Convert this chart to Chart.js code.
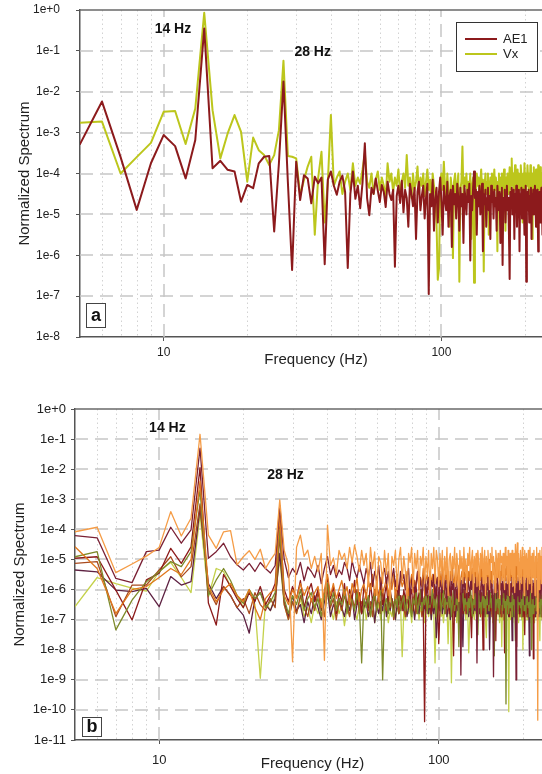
<!DOCTYPE html>
<html>
<head>
<meta charset="utf-8">
<script src="https://cdn.jsdelivr.net/npm/chart.js@4.4.1/dist/chart.umd.min.js"></script>
<style>
  html, body { margin: 0; padding: 0; background: #fff; overflow: hidden; width: 542px; height: 774px; }
  canvas { position: absolute; left: 0; }
  #chartA { top: 0; }
  #chartB { top: 390px; }
</style>
</head>
<body>
<canvas id="chartA" width="560" height="380"></canvas>
<canvas id="chartB" width="560" height="384"></canvas>
<script>
// Frequency bins (Hz)
const FREQ = [
  5,6,7,8,9,10,11,12,13,14,
  15,16,17,18,19,20,21,22,23,24,
  25,26,27,28,29,30,31,32,33,34,
  35,36,37,38,39,40,41,42,43,44,
  45,46,47,48,49,50,51,52,53,54,
  55,56,57,58,59,60,61,62,63,64,
  65,66,67,68,69,70,71,72,73,74,
  75,76,77,78,79,80,81,82,83,84,
  85,86,87,88,89,90,91,92,93,94,
  95,96,97,98,99,100,101,102,103,104,
  105,106,107,108,109,110,111,112,113,114,
  115,116,117,118,119,120,121,122,123,124,
  125,126,127,128,129,130,131,132,133,134,
  135,136,137,138,139,140,141,142,143,144,
  145,146,147,148,149,150,151,152,153,154,
  155,156,157,158,159,160,161,162,163,164,
  165,166,167,168,169,170,171,172,173,174,
  175,176,177,178,179,180,181,182,183,184,
  185,186,187,188,189,190,191,192,193,194,
  195,196,197,198,199,200,201,202,203,204,
  205,206,207,208,209,210,211,212,213,214,
  215,216,217,218,219,220,221,222,223,224,
  225,226,227,228,229,230,231,232,233,234,
  235,236,237,238,239,240,241,242,243,244,
  245,246,247,248,249,250
];

// Panel a: normalized spectra, stored as log10 of the value
const AE1_LOG = [
  -3.28,-2.24,-3.6,-4.89,-3.75,-3.06,-3.33,-4.12,-3.18,-0.45,
  -3.87,-3.69,-3.91,-3.95,-4.69,-4.28,-4.36,-3.75,-3.59,-3.57,
  -5.42,-3.75,-1.75,-4.2,-6.36,-3.71,-4.65,-4.04,-4.12,-4.73,
  -4.08,-4.24,-4.1,-6.22,-4.15,-3.95,-4.3,-4.52,-4.2,-4.05,
  -4.45,-6.31,-4.5,-3.95,-4.62,-4.3,-4.85,-4.22,-3.26,-4.6,
  -5.02,-4.35,-4.5,-4.12,-4.42,-4.7,-4.28,-4.45,-4.82,-4.2,
  -4.5,-4.65,-4.4,-6.28,-4.55,-4.3,-4.72,-4.18,-4.95,-4.4,
  -4.6,-5.3,-4.25,-4.5,-4.8,-4.35,-5.6,-4.45,-4.2,-4.9,
  -4.55,-4.3,-5.1,-4.6,-4.25,-6.95,-4.5,-4.8,-4.15,-5.4,
  -4.6,-4.35,-5.2,-4.45,-4.1,-4.7,-5.5,-4.3,-4.65,-4.9,
  -4.2,-5.3,-4.55,-4.4,-5.8,-4.3,-4.75,-4.5,-5.1,-4.25,
  -4.6,-5.4,-4.35,-4.8,-4.5,-5.7,-4.3,-4.65,-5.0,-4.4,
  -4.7,-4.25,-6.13,-4.55,-4.9,-4.35,-3.95,-4.6,-4.4,-5.5,
  -4.45,-4.8,-4.3,-5.0,-4.6,-4.25,-5.9,-4.5,-4.75,-4.4,
  -5.3,-4.6,-4.35,-4.9,-4.55,-5.6,-4.3,-4.7,-4.45,-5.1,
  -4.4,-4.8,-4.6,-5.4,-4.3,-4.65,-4.9,-4.45,-5.7,-4.5,
  -4.35,-6.24,-4.6,-4.8,-4.4,-5.2,-4.55,-4.3,-4.9,-4.6,
  -5.5,-6.58,-4.45,-4.7,-4.35,-5.0,-4.6,-4.4,-5.6,-4.5,
  -4.8,-4.3,-5.3,-4.55,-4.7,-4.4,-5.9,-4.5,-4.65,-4.35,
  -5.1,-4.6,-4.4,-4.85,-5.5,-4.5,-4.3,-6.65,-4.6,-4.45,
  -4.9,-4.4,-5.2,-4.55,-4.7,-4.35,-5.6,-4.5,-4.8,-4.4,
  -5.0,-4.6,-4.3,-4.75,-5.3,-4.5,-4.4,-4.9,-5.91,-4.55,
  -4.45,-4.8,-5.2,-4.5,-4.35,-4.7,-5.5,-4.6,-4.4,-4.9,
  -4.55,-5.1,-4.45,-4.7,-4.35,-5.4,-4.6,-4.8,-4.5,-5.0,
  -4.4,-4.65,-5.3,-4.5,-4.75,-4.45
];
const VX_LOG = [
  -2.76,-2.73,-4.0,-3.6,-3.25,-2.49,-2.47,-3.28,-2.41,-0.07,
  -2.45,-3.63,-3.02,-2.57,-2.98,-4.2,-3.12,-3.43,-3.55,-3.79,
  -3.55,-2.94,-1.24,-3.57,-3.59,-3.63,-4.53,-4.16,-3.83,-3.59,
  -5.5,-4.1,-3.47,-5.2,-4.2,-2.57,-4.3,-4.1,-3.95,-4.5,
  -4.2,-4.0,-4.4,-3.75,-4.3,-4.1,-4.25,-3.9,-3.5,-4.2,
  -4.35,-4.0,-4.5,-4.15,-3.95,-4.4,-4.1,-4.3,-4.6,-3.75,
  -4.2,-4.0,-4.45,-4.1,-4.3,-3.9,-4.5,-4.2,-4.0,-4.35,
  -3.55,-4.3,-4.1,-4.6,-4.0,-4.4,-4.2,-3.83,-4.5,-4.1,
  -4.3,-4.0,-4.55,-4.2,-3.9,-4.4,-4.15,-4.7,-4.0,-4.3,
  -4.5,-5.2,-6.6,-6.32,-4.2,-4.0,-4.4,-3.71,-4.3,-4.6,
  -4.0,-4.5,-5.3,-4.1,-4.35,-6.07,-4.2,-4.0,-4.6,-4.3,
  -4.0,-6.65,-4.4,-4.2,-3.34,-4.5,-4.1,-4.3,-4.0,-4.6,
  -4.2,-4.4,-4.0,-5.6,-4.3,-4.1,-6.67,-4.2,-4.5,-4.0,
  -4.3,-4.1,-4.6,-4.2,-3.9,-4.4,-4.15,-6.4,-4.3,-4.0,
  -4.5,-4.2,-4.0,-5.5,-4.3,-4.1,-4.4,-4.0,-4.6,-4.2,
  -3.9,-4.4,-4.1,-4.3,-5.9,-4.2,-4.0,-4.5,-4.1,-4.3,
  -4.0,-4.6,-4.2,-3.9,-4.4,-5.4,-4.1,-4.3,-4.0,-4.5,
  -4.2,-3.85,-4.4,-4.1,-3.63,-4.3,-4.0,-4.5,-4.2,-3.8,
  -4.4,-4.1,-4.3,-3.9,-4.5,-4.0,-4.2,-4.4,-3.8,-4.1,
  -4.3,-5.2,-4.0,-4.4,-3.75,-4.2,-4.5,-4.0,-4.3,-3.8,
  -4.1,-4.4,-4.0,-4.6,-3.8,-4.2,-4.3,-5.6,-4.0,-4.4,
  -3.85,-4.2,-4.1,-4.5,-3.9,-4.3,-4.0,-4.4,-3.8,-4.2,
  -4.1,-4.5,-3.85,-4.3,-4.0,-4.4,-4.15,-3.9,-4.3,-4.6,
  -4.0,-4.2,-3.8,-4.4,-4.1,-4.3,-3.9,-4.5,-4.0,-4.2,
  -3.85,-4.3,-4.1,-4.5,-4.0,-4.2
];

// Panel b: eight sensor spectra, log10 of the normalized value
const B1_LOG = [
  -4.08,-3.93,-5.44,-5.15,-4.89,-4.6,-3.41,-4.22,-3.63,-0.84,
  -4.19,-4.63,-4.08,-4.04,-5.18,-4.91,-4.71,-5.0,-4.66,-5.3,
  -5.02,-4.8,-3.02,-4.69,-5.2,-8.4,-4.6,-4.19,-4.9,-4.69,
  -5.3,-4.9,-5.4,-4.8,-8.35,-3.86,-5.2,-4.95,-5.5,-4.7,
  -5.0,-4.8,-5.3,-4.6,-5.1,-4.52,-4.9,-5.4,-4.7,-5.2,
  -4.8,-5.9,-4.6,-5.3,-4.75,-6.2,-4.9,-5.1,-5.8,-4.7,
  -5.5,-4.8,-6.4,-4.9,-5.2,-4.7,-6.0,-5.0,-4.6,-5.7,
  -4.9,-5.4,-6.3,-4.8,-5.1,-4.6,-5.9,-4.8,-5.3,-4.7,
  -6.1,-4.9,-5.2,-4.6,-5.8,-4.9,-5.5,-4.7,-6.2,-4.8,
  -5.3,-4.6,-5.8,-4.7,-5.0,-5.9,-4.8,-5.4,-4.7,-6.0,
  -4.9,-5.5,-4.6,-6.2,-5.0,-4.8,-5.7,-4.9,-5.3,-4.6,
  -5.9,-4.8,-5.2,-6.4,-4.7,-5.3,-4.9,-5.8,-4.6,-5.4,
  -5.0,-6.1,-4.8,-5.2,-4.6,-5.7,-5.0,-4.7,-6.3,-4.9,
  -5.4,-4.8,-5.9,-4.7,-5.1,-6.0,-4.8,-5.3,-4.6,-5.8,
  -5.0,-4.7,-6.2,-4.9,-5.5,-4.7,-5.2,-6.0,-4.8,-5.1,
  -4.6,-5.8,-4.9,-5.3,-6.1,-4.7,-5.0,-5.6,-4.8,-5.2,
  -6.3,-4.7,-5.1,-4.9,-5.7,-4.8,-5.4,-6.0,-4.6,-5.2,
  -4.9,-5.8,-4.7,-5.3,-6.2,-4.8,-5.0,-5.5,-4.7,-5.9,
  -5.1,-4.8,-6.1,-4.5,-5.2,-4.9,-4.45,-5.7,-4.8,-5.3,
  -6.0,-4.7,-5.1,-5.8,-4.6,-5.3,-4.9,-6.2,-4.7,-5.0,
  -5.6,-4.8,-5.2,-6.0,-4.7,-5.1,-5.8,-4.6,-5.3,-4.9,
  -6.1,-4.8,-5.0,-5.6,-4.7,-5.4,-6.2,-4.9,-5.0,-4.6,
  -5.7,-10.34,-4.8,-5.2,-6.0,-4.7,-5.3,-4.9,-5.8,-4.6,
  -5.1,-6.1,-4.8,-5.0,-5.6,-4.7,-5.3,-6.0,-4.8,-5.2,
  -4.7,-5.7,-5.0,-4.8,-6.1,-4.9
];
const B2_LOG = [
  -4.21,-4.28,-5.63,-5.77,-4.74,-4.69,-3.93,-4.46,-4.02,-1.3,
  -4.96,-4.74,-4.46,-4.91,-5.18,-5.35,-5.13,-5.4,-5.1,-5.3,
  -5.45,-5.2,-3.2,-5.0,-5.6,-5.3,-5.5,-5.1,-5.7,-5.25,
  -5.4,-5.6,-5.2,-5.8,-5.3,-4.9,-5.5,-5.2,-5.6,-5.35,
  -5.5,-5.1,-5.3,-5.7,-5.05,-5.4,-5.6,-5.2,-5.5,-5.8,
  -5.3,-5.6,-5.1,-5.9,-5.4,-5.7,-5.2,-6.0,-5.5,-5.3,
  -5.8,-5.4,-6.1,-5.6,-5.3,-5.9,-5.5,-6.2,-5.4,-5.7,
  -5.5,-6.0,-5.6,-5.3,-6.3,-5.7,-5.5,-6.1,-5.8,-5.4,
  -6.0,-5.6,-6.4,-5.7,-5.5,-6.2,-5.8,-5.6,-6.5,-5.7,
  -5.9,-5.5,-6.3,-5.8,-5.6,-6.6,-5.7,-5.9,-6.1,-5.5,
  -6.0,-5.7,-6.4,-5.6,-5.9,-6.2,-5.5,-6.0,-5.8,-6.5,
  -5.7,-5.9,-6.3,-5.6,-5.8,-8.84,-5.7,-6.1,-5.6,-6.0,
  -5.8,-6.4,-5.6,-5.9,-6.2,-5.7,-6.0,-5.5,-6.3,-5.8,
  -6.1,-5.6,-8.44,-5.9,-6.0,-5.7,-6.4,-5.8,-5.6,-6.2,
  -5.9,-5.7,-6.3,-5.8,-6.0,-5.6,-6.5,-5.9,-5.7,-6.1,
  -5.8,-6.4,-8.9,-5.7,-6.0,-5.8,-6.3,-5.6,-5.9,-6.2,
  -5.7,-6.0,-5.8,-6.5,-5.6,-5.9,-6.1,-5.7,-6.3,-5.8,
  -6.0,-5.6,-6.2,-5.9,-5.7,-6.4,-5.8,-6.0,-5.6,-6.1,
  -5.9,-6.3,-5.7,-6.0,-9.0,-5.8,-6.2,-5.6,-5.9,-6.4,
  -5.7,-6.0,-5.8,-6.3,-5.6,-5.9,-6.1,-5.7,-6.5,-5.8,
  -6.0,-5.6,-6.2,-5.9,-5.7,-6.4,-5.8,-6.0,-5.6,-6.1,
  -5.9,-6.3,-5.7,-6.0,-5.8,-6.5,-5.6,-5.9,-6.2,-5.7,
  -6.0,-5.8,-6.4,-5.6,-5.9,-6.1,-5.7,-6.3,-5.8,-6.0,
  -5.6,-6.2,-5.9,-5.7,-6.4,-5.8,-6.0,-5.6,-6.1,-5.9,
  -6.3,-5.7,-6.0,-5.8,-6.2,-5.9
];
const B3_LOG = [
  -4.58,-5.3,-6.8,-6.0,-5.9,-5.6,-5.3,-5.5,-5.0,-2.4,
  -5.9,-6.4,-6.0,-5.8,-6.2,-6.4,-6.0,-6.6,-7.0,-6.3,
  -6.1,-6.0,-3.5,-6.2,-6.5,-6.0,-6.3,-5.8,-6.2,-5.9,
  -6.4,-6.1,-5.9,-6.6,-6.0,-5.5,-6.2,-5.8,-6.3,-6.0,
  -5.7,-6.2,-5.9,-6.5,-5.8,-6.1,-5.6,-6.4,-6.0,-5.8,
  -6.3,-5.7,-6.0,-5.5,-6.2,-5.8,-6.4,-5.6,-6.1,-5.9,
  -5.6,-6.2,-5.8,-6.0,-5.5,-6.3,-5.7,-6.1,-5.6,-5.9,
  -5.7,-6.0,-5.4,-6.2,-5.8,-5.5,-6.1,-5.7,-5.9,-5.4,
  -6.0,-5.6,-5.9,-5.3,-6.2,-5.7,-5.5,-6.0,-5.4,-5.8,
  -5.5,-6.1,-5.3,-5.8,-5.6,-6.0,-5.4,-5.9,-5.2,-5.7,
  -6.0,-5.3,-5.8,-5.5,-6.2,-5.4,-5.7,-5.1,-6.0,-5.6,
  -5.3,-5.9,-5.5,-5.2,-6.1,-5.6,-5.4,-5.8,-5.1,-5.7,
  -5.5,-5.2,-6.0,-5.4,-5.7,-5.1,-5.9,-5.3,-5.6,-5.0,
  -5.8,-5.4,-5.2,-6.1,-5.5,-5.3,-5.7,-5.1,-6.0,-5.4,
  -5.2,-5.8,-5.5,-5.1,-5.9,-5.3,-5.6,-5.0,-5.7,-5.4,
  -5.9,-5.2,-5.5,-5.1,-5.8,-5.4,-5.0,-5.7,-5.3,-5.6,
  -5.1,-5.8,-5.4,-5.2,-5.9,-5.0,-5.6,-5.3,-5.7,-5.1,
  -5.5,-5.2,-5.9,-5.4,-5.0,-5.7,-5.3,-5.6,-5.1,-5.8,
  -5.4,-5.0,-5.6,-5.2,-5.9,-5.3,-4.9,-5.5,-5.1,-5.7,
  -5.3,-5.6,-5.0,-5.4,-5.8,-5.2,-5.5,-5.0,-5.7,-5.3,
  -5.1,-5.6,-5.4,-5.0,-5.8,-5.3,-5.5,-5.1,-5.7,-5.2,
  -5.5,-5.0,-5.6,-5.3,-5.1,-5.8,-5.4,-5.2,-5.6,-5.0,
  -5.4,-5.7,-5.1,-5.5,-5.3,-5.0,-5.8,-5.2,-5.5,-5.1,
  -5.6,-5.3,-5.0,-5.7,-5.2,-5.4,-5.1,-5.8,-5.3,-5.5,
  -5.0,-5.6,-5.2,-5.4,-5.1,-5.7
];
const B4_LOG = [
  -4.91,-4.74,-7.34,-6.35,-5.74,-5.41,-5.07,-5.24,-4.74,-2.7,
  -6.2,-5.68,-5.3,-5.7,-6.2,-6.46,-6.0,-6.3,-6.1,-6.6,
  -6.4,-6.1,-4.0,-6.3,-6.8,-6.2,-6.5,-6.0,-6.7,-6.3,
  -6.1,-6.6,-6.3,-6.9,-6.2,-5.8,-6.5,-6.1,-6.7,-6.3,
  -6.5,-6.0,-6.8,-6.2,-6.4,-6.7,-6.1,-6.5,-8.44,-6.3,
  -6.6,-6.2,-6.9,-6.4,-6.1,-6.7,-6.3,-6.0,-9.0,-6.5,
  -6.3,-6.8,-6.1,-6.5,-6.9,-6.2,-6.6,-6.0,-6.7,-6.4,
  -6.2,-6.7,-6.4,-6.0,-6.6,-6.9,-6.3,-6.5,-6.1,-6.8,
  -6.4,-6.0,-6.7,-6.3,-6.5,-6.1,-6.8,-6.2,-6.6,-6.4,
  -6.0,-6.6,-6.3,-6.9,-6.2,-6.5,-6.1,-6.7,-6.4,-6.0,
  -6.8,-6.3,-6.5,-6.1,-6.6,-6.2,-6.9,-6.4,-6.0,-6.7,
  -6.3,-6.5,-6.1,-7.9,-6.2,-6.6,-6.4,-6.0,-6.7,-6.3,
  -6.5,-6.1,-6.8,-6.3,-6.6,-6.0,-6.4,-6.9,-6.2,-6.5,
  -6.1,-6.7,-6.3,-7.5,-6.0,-6.6,-6.2,-6.8,-6.4,-6.1,
  -6.6,-6.3,-6.9,-6.2,-6.5,-6.0,-6.7,-6.4,-6.1,-6.6,
  -6.3,-6.8,-6.2,-8.2,-6.0,-6.7,-6.4,-6.1,-6.6,-6.3,
  -6.9,-6.2,-6.5,-6.0,-6.7,-6.3,-6.1,-6.6,-6.4,-9.8,
  -6.2,-6.5,-6.0,-6.8,-6.3,-6.6,-6.1,-6.4,-6.9,-6.2,
  -6.5,-6.0,-6.7,-7.7,-6.6,-6.1,-6.4,-6.8,-6.2,-6.5,
  -6.0,-6.6,-6.3,-6.9,-6.2,-6.5,-6.1,-6.7,-6.4,-6.0,
  -6.8,-6.3,-6.5,-6.1,-6.6,-6.2,-6.9,-6.4,-6.0,-6.7,
  -8.0,-6.5,-6.1,-6.8,-6.2,-6.6,-6.4,-6.0,-6.7,-6.3,
  -6.5,-6.1,-6.8,-6.3,-6.6,-6.0,-6.4,-6.9,-6.2,-6.5,
  -6.1,-6.7,-6.3,-6.5,-6.0,-6.6,-6.2,-6.8,-7.8,-6.1,
  -6.6,-6.3,-6.9,-6.2,-6.5,-6.0
];
const B5_LOG = [
  -4.96,-4.91,-6.02,-7.01,-5.68,-5.46,-4.63,-5.13,-4.58,-1.95,
  -6.45,-7.18,-5.5,-5.9,-6.3,-6.6,-6.1,-6.4,-5.9,-6.5,
  -6.2,-5.8,-3.7,-6.0,-6.4,-5.9,-6.3,-5.7,-6.6,-6.1,
  -5.8,-6.4,-6.0,-6.7,-6.2,-5.6,-6.3,-5.9,-6.8,-6.1,
  -6.4,-5.8,-6.6,-6.0,-6.3,-5.7,-6.5,-6.1,-6.8,-5.9,
  -6.2,-6.6,-5.8,-6.4,-6.0,-6.7,-6.1,-5.9,-6.5,-6.2,
  -5.8,-6.6,-6.0,-6.4,-6.8,-6.1,-5.9,-6.5,-6.2,-6.7,
  -6.0,-6.4,-5.8,-6.6,-6.2,-6.0,-6.7,-6.3,-5.9,-6.5,
  -6.1,-6.4,-6.0,-6.6,-10.39,-6.2,-5.9,-6.5,-6.1,-6.8,
  -6.0,-6.3,-6.6,-5.9,-6.4,-7.8,-6.7,-6.0,-6.5,-6.2,
  -5.9,-6.6,-6.2,-6.0,-6.8,-6.3,-5.9,-6.5,-8.2,-6.4,
  -6.7,-6.0,-6.3,-6.6,-5.9,-6.4,-6.2,-6.8,-6.0,-6.5,
  -6.2,-5.9,-6.6,-6.1,-6.4,-6.8,-7.6,-6.3,-6.6,-5.9,
  -6.4,-6.1,-6.7,-6.0,-6.5,-6.2,-5.9,-6.6,-6.3,-8.0,
  -6.8,-6.2,-6.4,-6.0,-6.6,-6.1,-6.5,-5.9,-6.7,-6.3,
  -6.0,-6.5,-6.2,-6.8,-6.1,-7.7,-5.9,-6.6,-6.3,-6.0,
  -6.5,-6.8,-6.2,-6.0,-6.6,-6.3,-5.9,-8.1,-6.1,-6.7,
  -6.0,-6.4,-6.2,-6.6,-6.9,-6.1,-6.3,-5.9,-6.5,-6.2,
  -6.7,-6.0,-6.4,-6.1,-6.6,-7.9,-5.9,-6.5,-6.2,-6.8,
  -6.1,-6.4,-6.0,-6.6,-6.3,-6.9,-6.1,-6.5,-7.5,-6.0,
  -6.6,-6.3,-6.8,-6.1,-6.4,-6.0,-6.7,-6.2,-6.5,-6.9,
  -6.2,-6.0,-6.6,-8.3,-6.9,-6.1,-6.4,-6.7,-6.0,-6.5,
  -6.3,-6.6,-6.1,-6.8,-6.2,-6.5,-6.0,-6.7,-6.3,-6.4,
  -6.9,-7.8,-6.5,-6.2,-6.8,-6.0,-6.6,-6.3,-6.1,-6.7,
  -6.2,-6.5,-6.0,-6.8,-6.3,-6.6
];
const B6_LOG = [
  -5.13,-5.07,-6.9,-5.85,-5.85,-5.35,-4.91,-5.58,-5.24,-3.15,
  -6.0,-6.5,-5.9,-6.2,-6.6,-6.3,-6.8,-6.1,-6.5,-6.7,
  -6.3,-6.6,-4.2,-6.5,-7.0,-6.4,-6.8,-6.2,-6.6,-6.9,
  -6.3,-6.7,-6.1,-6.5,-6.9,-5.9,-6.6,-6.3,-7.0,-6.4,
  -6.7,-6.2,-6.5,-6.9,-6.3,-6.6,-6.0,-6.8,-6.4,-6.5,
  -6.1,-6.7,-6.4,-6.9,-6.2,-6.6,-6.3,-6.8,-6.0,-6.5,
  -6.7,-6.2,-6.6,-6.3,-7.0,-6.4,-6.1,-6.8,-6.5,-6.2,
  -6.6,-6.9,-6.3,-6.5,-6.1,-6.7,-6.4,-6.0,-6.8,-6.3,
  -6.5,-6.1,-6.9,-6.4,-6.2,-6.7,-6.3,-6.6,-6.0,-6.8,
  -6.3,-6.6,-6.1,-6.9,-6.4,-6.2,-6.7,-6.5,-6.0,-6.6,
  -6.3,-6.8,-6.1,-6.5,-6.7,-6.2,-6.4,-6.9,-6.3,-6.0,
  -6.6,-6.4,-6.2,-6.8,-6.5,-6.1,-6.7,-6.3,-6.6,-6.0,
  -6.8,-6.3,-6.5,-6.1,-6.7,-6.4,-6.2,-6.9,-6.3,-6.6,
  -6.0,-6.5,-6.8,-6.2,-6.6,-6.3,-6.9,-6.1,-6.4,-6.7,
  -6.2,-6.6,-6.0,-6.8,-6.3,-6.5,-6.1,-6.7,-6.4,-6.2,
  -6.9,-6.3,-6.6,-6.0,-6.5,-6.7,-6.2,-6.4,-6.8,-6.1,
  -6.6,-6.3,-6.9,-6.2,-6.5,-6.1,-6.7,-6.4,-6.0,-6.6,
  -6.3,-6.8,-6.1,-6.5,-6.7,-6.2,-6.4,-6.9,-6.3,-6.6,
  -6.0,-6.5,-6.8,-6.2,-6.6,-6.4,-6.1,-6.7,-6.3,-6.5,
  -6.9,-6.2,-6.6,-6.0,-6.4,-6.7,-6.3,-6.5,-6.1,-6.8,
  -6.4,-6.2,-6.6,-6.9,-6.3,-6.5,-6.0,-6.7,-6.4,-6.2,
  -6.8,-6.3,-6.6,-6.1,-6.5,-6.9,-6.2,-6.4,-6.7,-6.0,
  -6.6,-6.3,-6.8,-6.2,-6.5,-6.1,-6.7,-6.4,-6.9,-6.3,
  -6.5,-6.0,-6.6,-6.8,-6.2,-6.4,-6.7,-6.1,-6.5,-6.3,
  -6.8,-6.2,-6.6,-6.0,-6.4,-6.7
];
const B7_LOG = [
  -5.35,-5.41,-6.02,-6.07,-5.96,-6.57,-5.57,-5.85,-5.74,-3.3,
  -5.8,-6.3,-5.9,-6.2,-6.6,-6.85,-7.45,-6.3,-6.1,-6.5,
  -6.7,-6.3,-4.8,-6.4,-6.9,-6.2,-6.7,-6.5,-7.1,-6.4,
  -6.8,-6.2,-6.6,-7.0,-6.4,-6.0,-6.9,-6.5,-6.7,-6.3,
  -6.6,-6.9,-6.4,-6.7,-6.2,-7.0,-6.5,-6.3,-6.8,-6.6,
  -6.4,-6.9,-6.6,-6.3,-7.1,-6.5,-6.8,-6.4,-6.7,-6.2,
  -6.9,-6.5,-6.7,-6.3,-6.6,-7.0,-6.4,-6.8,-6.5,-6.3,
  -6.7,-6.4,-6.9,-6.6,-6.2,-6.8,-6.5,-7.0,-6.4,-6.6,
  -6.8,-6.3,-6.6,-6.9,-6.5,-6.7,-6.2,-6.8,-6.4,-7.0,
  -6.5,-6.8,-6.3,-7.6,-6.9,-6.4,-6.7,-6.2,-6.8,-6.5,
  -6.7,-6.4,-6.9,-6.6,-6.3,-7.0,-6.5,-6.8,-6.4,-6.6,
  -6.9,-6.3,-6.7,-6.5,-6.8,-6.4,-6.6,-7.9,-6.3,-6.7,
  -6.5,-6.8,-6.4,-6.9,-6.6,-6.3,-6.7,-6.5,-6.8,-6.4,
  -6.7,-6.3,-6.6,-6.9,-6.4,-6.8,-6.5,-6.7,-6.3,-6.6,
  -6.9,-6.5,-6.7,-6.4,-6.8,-6.6,-6.3,-8.0,-6.5,-6.7,
  -6.4,-6.8,-6.6,-6.3,-6.9,-6.5,-6.7,-6.4,-6.8,-6.6,
  -6.3,-6.7,-6.5,-6.9,-6.4,-6.6,-6.8,-6.3,-6.7,-6.5,
  -6.8,-6.4,-6.6,-6.9,-6.5,-6.3,-6.7,-6.4,-7.7,-6.6,
  -6.4,-6.9,-6.5,-6.7,-6.3,-6.8,-6.6,-6.4,-6.7,-6.5,
  -6.8,-6.3,-6.6,-6.9,-6.5,-6.7,-6.4,-6.8,-6.6,-6.3,
  -6.7,-6.5,-6.9,-6.4,-6.6,-6.8,-8.2,-6.7,-6.5,-6.9,
  -6.4,-6.6,-6.8,-6.3,-6.7,-6.5,-6.9,-6.4,-6.6,-6.8,
  -6.3,-6.7,-6.5,-6.9,-6.4,-6.6,-6.8,-6.3,-6.7,-6.5,
  -6.9,-6.4,-6.6,-6.8,-6.3,-6.7,-7.6,-6.9,-6.4,-6.6,
  -6.8,-6.3,-6.7,-6.5,-6.9,-6.4
];
const B8_LOG = [
  -6.57,-5.6,-5.8,-5.95,-6.05,-5.4,-5.1,-5.6,-6.1,-3.5,
  -6.24,-5.3,-5.4,-5.9,-6.2,-6.6,-6.0,-6.5,-8.95,-6.4,
  -6.7,-6.2,-5.0,-6.5,-7.0,-6.4,-6.8,-6.3,-6.9,-6.6,
  -7.1,-6.5,-6.8,-6.3,-6.9,-6.1,-6.6,-7.0,-6.4,-6.8,
  -6.5,-7.2,-6.6,-6.9,-6.3,-6.7,-7.0,-6.5,-6.8,-6.4,
  -7.0,-6.6,-6.9,-6.4,-7.1,-6.7,-6.5,-7.0,-6.6,-6.8,
  -6.5,-7.1,-6.7,-6.9,-6.4,-7.0,-6.6,-6.8,-6.5,-8.23,
  -6.7,-7.0,-6.5,-6.8,-6.6,-7.1,-6.4,-6.9,-6.7,-6.5,
  -7.0,-6.6,-6.8,-6.4,-7.1,-6.7,-6.5,-6.9,-6.6,-7.0,
  -6.5,-6.8,-8.44,-6.7,-7.0,-6.6,-6.4,-6.9,-6.7,-7.1,
  -6.6,-6.8,-6.5,-7.8,-6.7,-6.4,-9.1,-6.8,-6.6,-6.9,
  -6.5,-7.1,-6.7,-6.4,-6.9,-6.6,-7.0,-6.5,-6.8,-6.6,
  -7.0,-6.5,-6.8,-8.1,-7.1,-6.7,-6.4,-6.9,-6.6,-7.0,
  -6.5,-6.8,-6.6,-7.1,-6.7,-6.4,-6.9,-6.6,-7.0,-6.5,
  -6.8,-6.6,-7.1,-7.6,-6.4,-6.9,-6.6,-7.0,-6.5,-6.8,
  -6.6,-7.1,-6.7,-6.4,-6.9,-6.6,-7.0,-6.5,-6.8,-6.6,
  -7.1,-6.7,-6.4,-7.9,-6.6,-7.0,-6.5,-6.8,-6.6,-7.1,
  -6.7,-6.4,-6.9,-10.06,-6.6,-7.0,-6.5,-6.8,-6.6,-7.1,
  -6.7,-6.4,-6.9,-6.6,-7.0,-6.5,-6.8,-6.6,-7.1,-6.7,
  -6.4,-6.9,-6.6,-7.0,-6.5,-8.0,-6.6,-7.1,-6.7,-6.4,
  -6.9,-6.6,-7.0,-6.5,-6.8,-6.6,-7.1,-6.7,-6.4,-6.9,
  -6.6,-7.0,-6.5,-6.8,-6.6,-7.1,-6.7,-6.4,-6.9,-6.6,
  -7.0,-6.5,-6.8,-6.6,-7.1,-7.7,-6.4,-6.9,-6.6,-7.0,
  -6.5,-6.8,-6.6,-7.1,-6.7,-6.4,-6.9,-6.6,-7.0,-6.5,
  -6.8,-6.6,-7.1,-6.7,-6.4,-6.9
];

// Axis ticks
const X_TICKS = [10, 100];
const X_MINOR = [6, 7, 8, 9, 20, 30, 40, 50, 60, 70, 80, 90, 200];
const Y_TICKS_A = [1, 1e-1, 1e-2, 1e-3, 1e-4, 1e-5, 1e-6, 1e-7, 1e-8];
const Y_TICKS_B = [1, 1e-1, 1e-2, 1e-3, 1e-4, 1e-5, 1e-6, 1e-7, 1e-8, 1e-9, 1e-10, 1e-11];

const FONT = '"Liberation Sans", Arial, Helvetica, sans-serif';

function toPoints(logs) {
  return FREQ.map((f, i) => ({ x: f, y: Math.pow(10, logs[i]) }));
}

// Dashed decade grid, dotted minor grid, frame, notes, panel letter and boxed legend
const panelDecor = {
  id: 'panelDecor',
  beforeDatasetsDraw(chart, args, o) {
    const { ctx, chartArea: a, scales: { x, y } } = chart;
    ctx.save();
    ctx.beginPath();
    ctx.rect(a.left, a.top, a.right - a.left, a.bottom - a.top);
    ctx.clip();
    ctx.lineWidth = 1;
    ctx.strokeStyle = '#d2d2d2';
    ctx.setLineDash([1.5, 3]);
    X_MINOR.forEach(f => {
      const px = Math.round(x.getPixelForValue(f)) + 0.5;
      ctx.beginPath(); ctx.moveTo(px, a.top); ctx.lineTo(px, a.bottom); ctx.stroke();
    });
    ctx.lineWidth = 1.5;
    ctx.strokeStyle = '#c6c6c6';
    ctx.setLineDash([13, 7]);
    X_TICKS.forEach(f => {
      const px = Math.round(x.getPixelForValue(f));
      ctx.beginPath(); ctx.moveTo(px, a.bottom); ctx.lineTo(px, a.top); ctx.stroke();
    });
    o.yTicks.forEach(v => {
      const py = Math.round(y.getPixelForValue(v));
      if (py <= a.top + 1 || py >= a.bottom - 1) return;
      ctx.beginPath(); ctx.moveTo(a.left, py); ctx.lineTo(a.right, py); ctx.stroke();
    });
    ctx.restore();
  },
  afterDraw(chart, args, o) {
    const { ctx, chartArea: a, scales: { x, y } } = chart;
    ctx.save();
    // top and right frame
    ctx.strokeStyle = '#6a6a6a';
    ctx.lineWidth = 1.5;
    ctx.beginPath();
    ctx.moveTo(a.left, a.top); ctx.lineTo(a.right, a.top); ctx.lineTo(a.right, a.bottom);
    ctx.stroke();
    // peak notes
    ctx.fillStyle = '#111';
    ctx.font = 'bold ' + o.noteSize + 'px ' + FONT;
    ctx.textAlign = 'center';
    ctx.textBaseline = 'middle';
    o.notes.forEach(n => {
      ctx.fillText(n.text, x.getPixelForValue(n.f), y.getPixelForValue(n.v));
    });
    // panel letter in a box
    const L = o.letter;
    const bx = a.left + L.dx, by = a.bottom - L.dy - L.h;
    ctx.fillStyle = '#fff';
    ctx.fillRect(bx, by, L.w, L.h);
    ctx.strokeStyle = '#444';
    ctx.lineWidth = 1;
    ctx.strokeRect(bx + 0.5, by + 0.5, L.w, L.h);
    ctx.fillStyle = '#111';
    ctx.font = 'bold 18px ' + FONT;
    ctx.fillText(L.text, bx + L.w / 2 + 0.5, by + L.h / 2 + 1);
    // boxed legend
    if (o.legend) {
      const g = o.legend;
      ctx.fillStyle = '#fff';
      ctx.fillRect(g.x, g.y, g.w, g.h);
      ctx.strokeStyle = '#333';
      ctx.lineWidth = 1;
      ctx.strokeRect(g.x + 0.5, g.y + 0.5, g.w, g.h);
      ctx.font = '13px ' + FONT;
      ctx.textAlign = 'left';
      chart.data.datasets.forEach((ds, i) => {
        const ly = g.y + 17 + i * 15;
        ctx.strokeStyle = ds.borderColor;
        ctx.lineWidth = 2;
        ctx.beginPath(); ctx.moveTo(g.x + 9, ly); ctx.lineTo(g.x + 41, ly); ctx.stroke();
        ctx.fillStyle = '#222';
        ctx.fillText(ds.label, g.x + 47, ly + 0.5);
      });
    }
    ctx.restore();
  }
};

function buildChart(id, datasets, c) {
  return new Chart(document.getElementById(id), {
    type: 'line',
    data: { datasets },
    options: {
      responsive: false,
      animation: false,
      devicePixelRatio: 1,
      layout: { padding: c.padding },
      elements: {
        point: { radius: 0, hoverRadius: 0 },
        line: { tension: 0, borderJoinStyle: 'round', borderCapStyle: 'round' }
      },
      plugins: {
        legend: { display: false },
        tooltip: { enabled: false },
        panelDecor: c.decor
      },
      scales: {
        x: {
          type: 'logarithmic', min: 5, max: 250,
          afterFit: s => { s.height = c.xAxisH; s.paddingLeft = 0; s.paddingRight = 0; },
          afterBuildTicks: s => { s.ticks = X_TICKS.map(v => ({ value: v })); },
          ticks: {
            autoSkip: false, maxRotation: 0, color: '#222', padding: c.xTickPad,
            font: { family: FONT, size: c.xTickSize },
            callback: v => String(v)
          },
          grid: { display: true, drawOnChartArea: false, drawTicks: true, tickLength: 4, tickColor: '#555', tickWidth: 1 },
          border: { display: true, color: '#555', width: 1.5 },
          title: {
            display: true, text: 'Frequency (Hz)', color: '#222',
            font: { family: FONT, size: 15 }, padding: { top: 0, bottom: c.xTitlePad }
          }
        },
        y: {
          type: 'logarithmic', min: c.yTicks[c.yTicks.length - 1], max: 1,
          afterFit: s => { s.width = c.yAxisW; s.paddingTop = 0; s.paddingBottom = 0; },
          afterBuildTicks: s => { s.ticks = c.yTicks.map(v => ({ value: v })); },
          ticks: {
            autoSkip: false, color: '#222', padding: c.yTickPad,
            font: { family: FONT, size: c.yTickSize },
            callback: v => Number(v).toExponential(0)
          },
          grid: { display: true, drawOnChartArea: false, drawTicks: true, tickLength: 4, tickColor: '#555', tickWidth: 1 },
          border: { display: true, color: '#555', width: 1.5 },
          title: {
            display: true, text: 'Normalized Spectrum', color: '#222',
            font: { family: FONT, size: 15 }, padding: { top: c.yTitlePad, bottom: 0 }
          }
        }
      }
    },
    plugins: [panelDecor]
  });
}

// Panel a: AE1 against Vx
buildChart('chartA', [
  { label: 'AE1', data: toPoints(AE1_LOG), borderColor: '#8c1a1c', borderWidth: 2 },
  { label: 'Vx', data: toPoints(VX_LOG), borderColor: '#bcc61c', borderWidth: 2 }
], {
  padding: { left: 0, top: 10, right: 8, bottom: 0 },
  xAxisH: 43, yAxisW: 80, xTickSize: 12, yTickSize: 12, xTickPad: 4, yTickPad: 16,
  xTitlePad: 11, yTitlePad: 16, yTicks: Y_TICKS_A,
  decor: {
    yTicks: Y_TICKS_A, noteSize: 14,
    notes: [ { text: '14 Hz', f: 10.8, v: 0.34 }, { text: '28 Hz', f: 34.4, v: 0.094 } ],
    letter: { text: 'a', dx: 6, dy: 10, w: 19, h: 24 },
    legend: { x: 456, y: 22, w: 81, h: 49 }
  }
});

// Panel b: all sensors
const B_COLORS = ['#f59c46', '#7a2034', '#e0781e', '#7d8a2a', '#8c1a1a', '#a84a1e', '#5e2242', '#c4d14a'];
const B_SERIES = [B1_LOG, B2_LOG, B3_LOG, B4_LOG, B5_LOG, B6_LOG, B7_LOG, B8_LOG];
const B_LABELS = ['S1', 'S2', 'S3', 'S4', 'S5', 'S6', 'S7', 'S8'];
buildChart('chartB', B_SERIES.map((s, i) => ({
  label: B_LABELS[i], data: toPoints(s), borderColor: B_COLORS[i], borderWidth: 1.3
})), {
  padding: { left: 0, top: 19, right: 10, bottom: 0 },
  xAxisH: 34, yAxisW: 75, xTickSize: 13, yTickSize: 13, xTickPad: 9, yTickPad: 5,
  xTitlePad: 1, yTitlePad: 11, yTicks: Y_TICKS_B,
  decor: {
    yTicks: Y_TICKS_B, noteSize: 14,
    notes: [ { text: '14 Hz', f: 10.7, v: 0.23 }, { text: '28 Hz', f: 28.3, v: 0.0064 } ],
    letter: { text: 'b', dx: 7, dy: 4, w: 19, h: 19 },
    legend: null
  }
});
</script>
</body>
</html>
